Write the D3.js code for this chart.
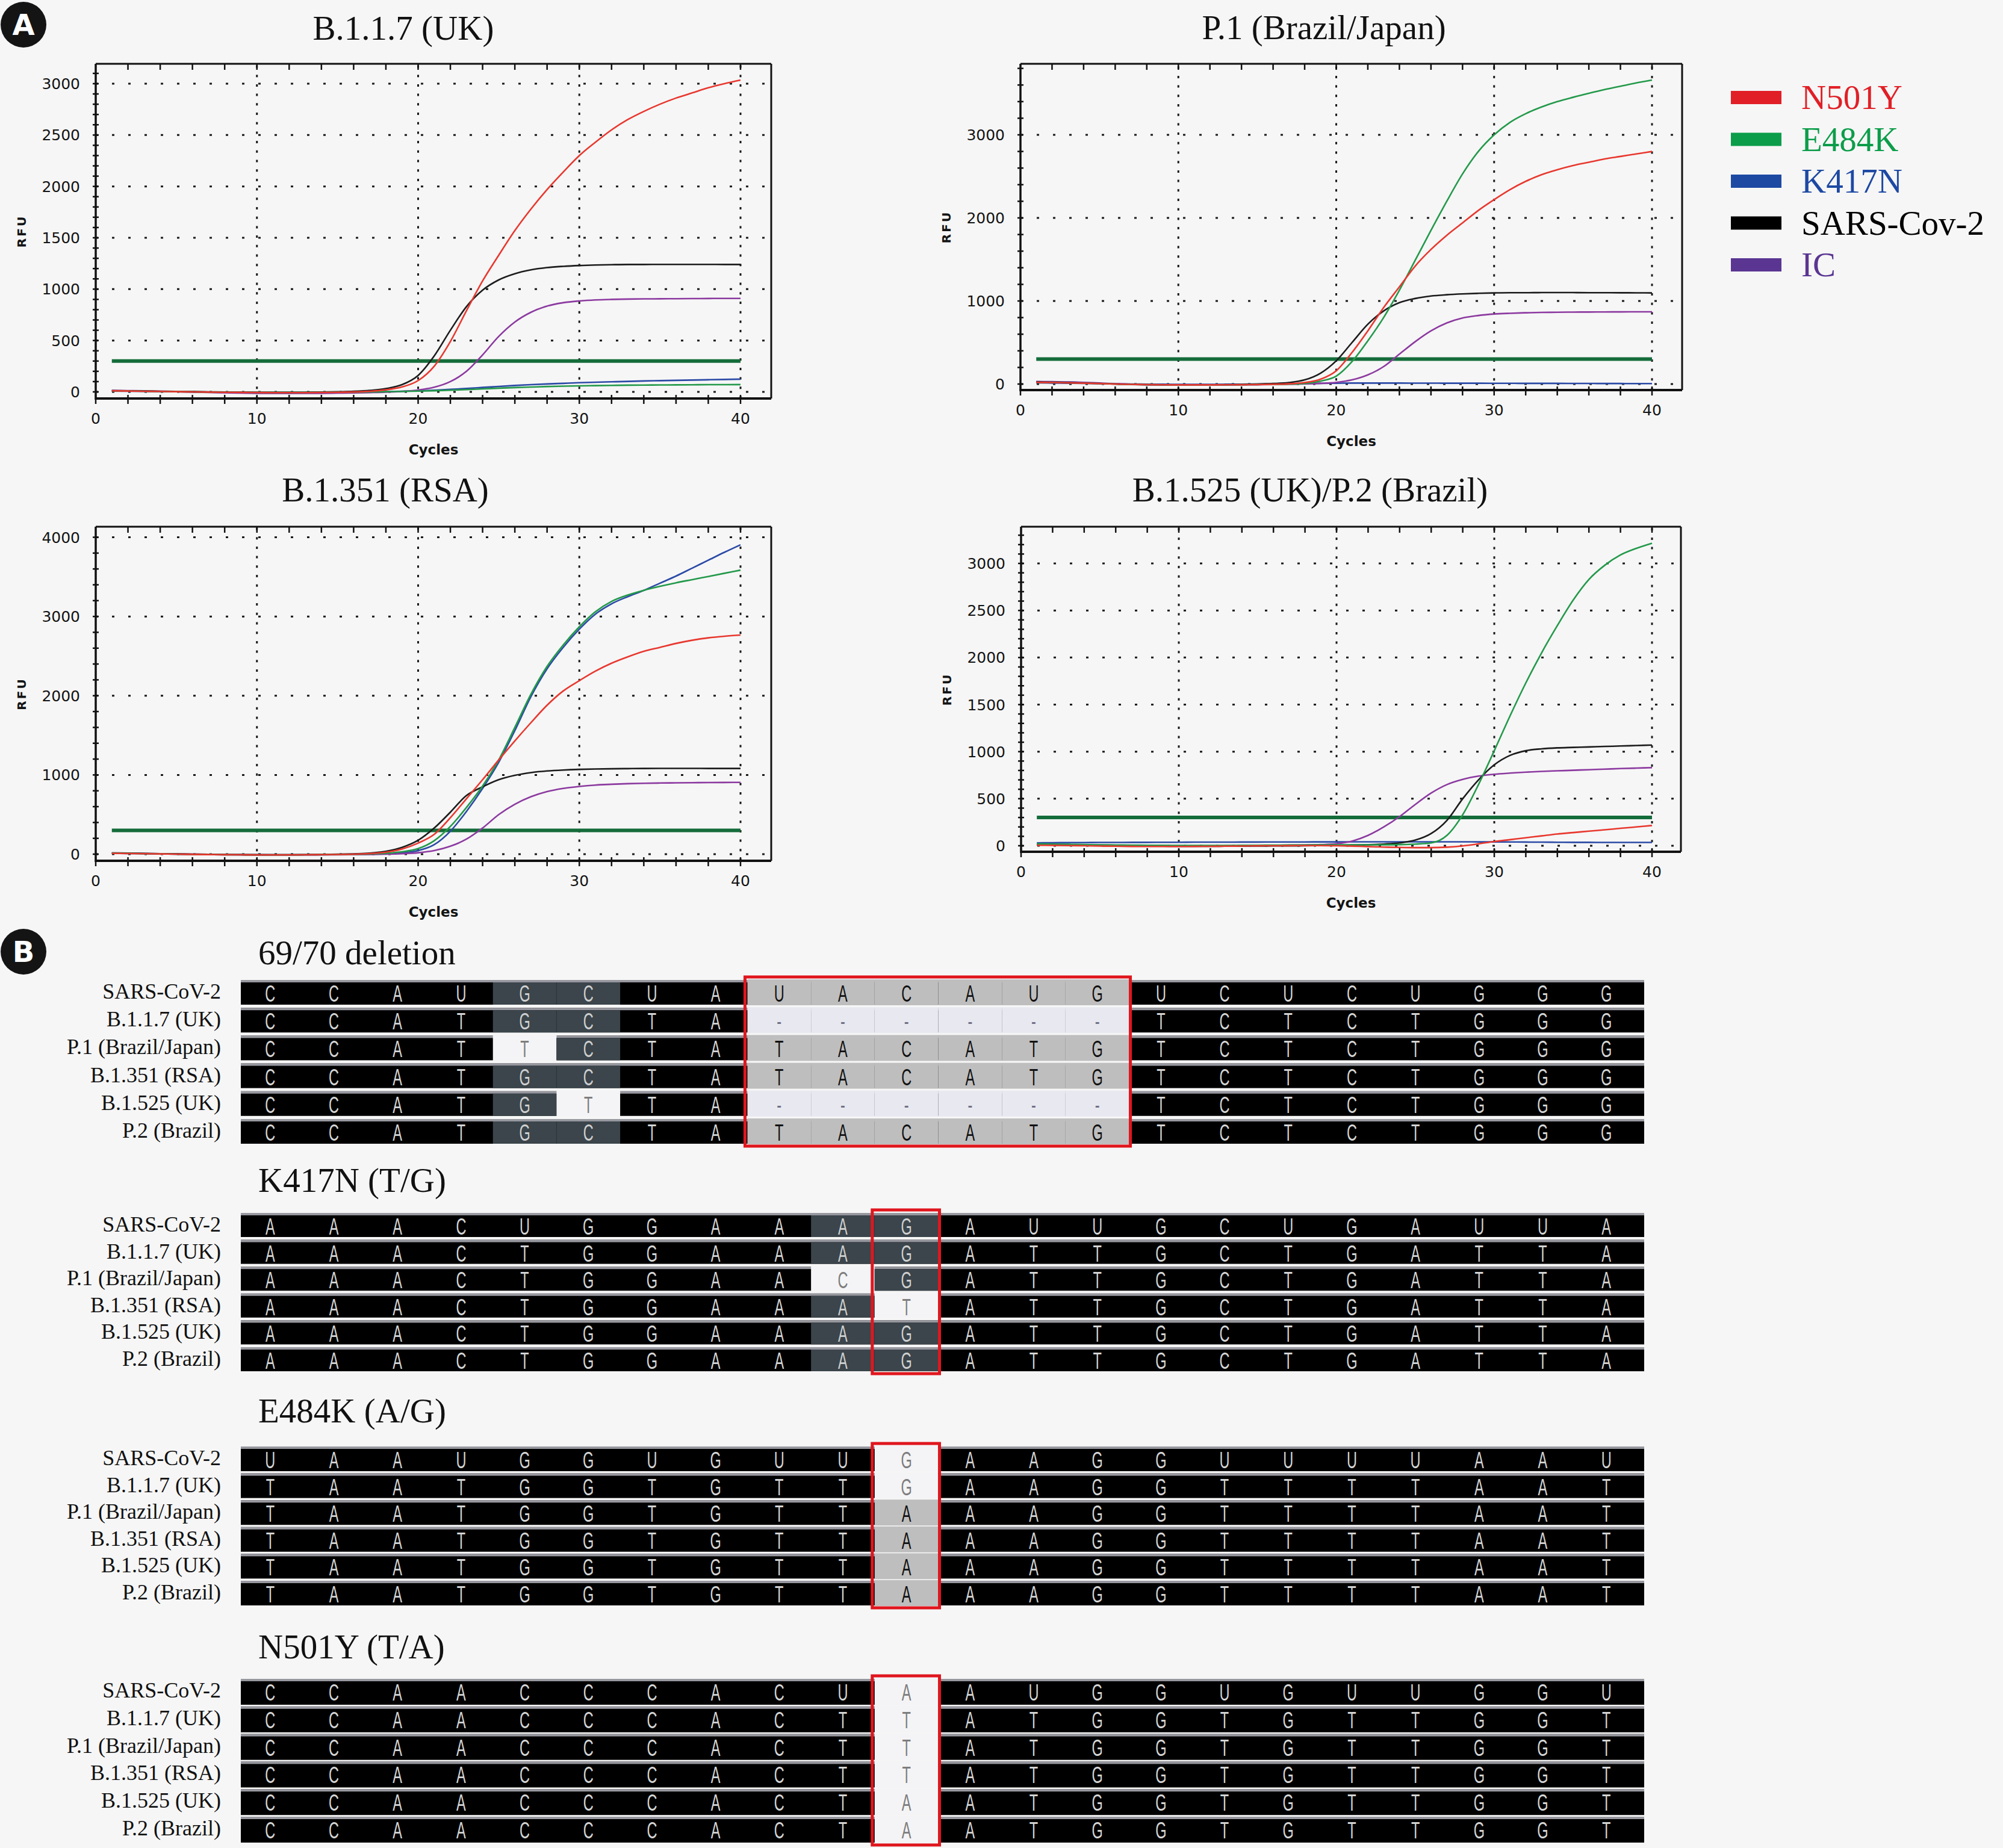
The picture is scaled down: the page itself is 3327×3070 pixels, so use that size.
<!DOCTYPE html>
<html><head><meta charset="utf-8">
<script src="https://cdn.jsdelivr.net/npm/d3@7"></script>
<style>
html,body{margin:0;padding:0;background:#f6f6f6;}
svg{display:block;}
</style></head><body>
<svg id="fig" width="3327" height="3070"></svg>
<script>
// ---------------- DATA ----------------
const cycles = d3.range(1, 41);
const seriesNames = ["N501Y", "E484K", "K417N", "SARS-Cov-2", "IC"];
const thresholdRFU = 300;
const xTickLabels = [0, 10, 20, 30, 40];
const chartTitles = ["B.1.1.7 (UK)", "P.1 (Brazil/Japan)", "B.1.351 (RSA)", "B.1.525 (UK)/P.2 (Brazil)"];
const yTicksB117 = [0, 500, 1000, 1500, 2000, 2500, 3000];
const yTicksP1 = [0, 1000, 2000, 3000];
const yTicksB1351 = [0, 1000, 2000, 3000, 4000];
const yTicksB1525 = [0, 500, 1000, 1500, 2000, 2500, 3000];

// B.1.1.7 (UK)
const b117_N501Y = [10,8,6,4,2,0,-2,-4,-5,-6,-7,-7,-7,-6,-4,-1, 6,20,48,110,250,490,790,1080, 1330,1570,1780,1970,2140,2300,2430,2550, 2650,2730,2800,2860,2910,2960,3000,3035];
const b117_E484K = [10,8,6,4,2,0,-2,-3,-4,-5,-5,-5,-5,-4,-3,-2, 0,2,4,7,11,16,22,29, 36,42,47,52,56,59,61,63, 65,66,67,68,69,70,70,71];
const b117_K417N = [8,6,5,3,2,0,-2,-3,-4,-5,-5,-5,-4,-3,-2,-1, 1,3,6,10,16,24,33,43, 53,62,70,77,83,89,94,98, 102,106,109,112,115,118,121,124];
const b117_SARS = [12,10,8,6,4,2,0,-2,-3,-4,-5,-5,-4,-2,1,5, 14,32,70,160,350,600,830,990, 1090,1150,1188,1210,1222,1230,1235,1238, 1240,1240,1241,1241,1241,1241,1240,1240];
const b117_IC = [14,12,10,6,2,-2,-6,-9,-12,-14,-15,-15,-15,-14,-12,-10, -7,-3,5,18,45,100,200,360, 540,680,775,835,868,885,895,900, 903,905,906,907,908,909,910,910];

// P.1 (Brazil/Japan)
const p1_N501Y = [20,18,14,10,5,0,-4,-7,-9,-10,-10,-10,-9,-8,-6,-3, 3,18,58,160,380,640,920,1170, 1420,1620,1790,1940,2090,2220,2340,2440, 2520,2580,2630,2670,2710,2740,2770,2800];
const p1_E484K = [20,18,14,10,5,0,-4,-7,-9,-10,-10,-10,-9,-8,-6,-4, -1,8,35,95,270,520,800,1130, 1490,1850,2200,2530,2800,3000,3150,3255, 3335,3400,3452,3500,3545,3585,3625,3660];
const p1_K417N = [15,12,10,8,5,2,0,-2,-3,-4,-4,-4,-3,-2,0,2, 4,6,8,10,12,12,12,12, 11,11,10,10,10,9,9,8, 8,8,7,7,6,6,5,5];
const p1_SARS = [25,22,18,12,6,0,-5,-8,-10,-11,-11,-10,-8,-5,0,6, 18,50,130,280,500,720,880,980, 1030,1060,1075,1085,1092,1097,1100,1100, 1101,1101,1101,1100,1100,1099,1098,1097];
const p1_IC = [30,28,25,20,12,5,-2,-7,-10,-12,-12,-12,-11,-10,-8,-5, -2,2,8,20,50,110,210,360, 510,640,735,795,825,843,852,858, 862,864,866,867,868,869,870,870];

// B.1.351 (RSA)
const b1351_N501Y = [10,8,6,3,0,-3,-5,-7,-8,-9,-9,-9,-8,-6,-4,0, 8,25,65,140,250,460,700,940, 1190,1430,1660,1880,2060,2190,2310,2410, 2490,2560,2610,2660,2700,2730,2750,2765];
const b1351_E484K = [12,10,7,4,0,-3,-5,-7,-8,-9,-9,-9,-8,-7,-5,-2, 3,12,30,70,170,350,590,860, 1190,1600,2020,2370,2640,2870,3060,3190, 3270,3330,3380,3425,3465,3505,3545,3585];
const b1351_K417N = [10,8,6,3,0,-3,-5,-7,-8,-9,-9,-9,-8,-7,-5,-3, 0,6,18,45,120,290,540,830, 1160,1560,1990,2340,2610,2840,3030,3160, 3250,3330,3420,3510,3610,3710,3810,3905];
const b1351_SARS = [15,12,9,6,3,0,-3,-5,-6,-7,-7,-7,-6,-4,-1,4, 12,35,85,175,330,530,740,850, 940,995,1030,1050,1062,1070,1075,1078, 1080,1082,1083,1083,1083,1082,1082,1082];
const b1351_IC = [15,12,9,6,3,0,-3,-5,-7,-8,-9,-9,-9,-8,-7,-5, -3,0,6,18,45,100,190,330, 500,630,725,790,830,855,872,882, 890,895,898,900,902,904,905,906];

// B.1.525 (UK)/P.2 (Brazil)
const b1525_N501Y = [5,4,2,0,-3,-5,-7,-8,-8,-8,-7,-6,-5,-3,-1,0, 1,2,2,0,-4,-9,-14,-18, -20,-20,-15,-2,20,45,65,85, 105,125,140,155,170,185,200,215];
const b1525_E484K = [20,18,15,12,10,8,6,5,4,3,3,3,3,4,5,6, 7,8,9,10,10,10,10,12, 18,30,110,330,650,1010,1380,1730, 2050,2340,2610,2830,2980,3090,3160,3215];
const b1525_K417N = [30,32,33,34,35,35,36,36,37,37,38,38,38,39,39,40, 40,40,41,41,42,42,42,42, 42,42,42,42,41,41,40,39, 38,37,36,36,35,35,35,35];
const b1525_SARS = [10,8,6,4,2,0,-2,-4,-5,-6,-6,-6,-5,-4,-3,-2, -1,0,2,4,7,11,18,30, 60,130,270,500,700,860,960,1010, 1030,1040,1045,1050,1055,1060,1065,1070];
const b1525_IC = [15,13,11,9,7,5,3,1,0,-1,-2,-2,-1,0,2,4, 6,8,12,22,50,110,200,310, 440,560,650,705,740,760,772,782, 790,796,802,808,814,820,825,830];

// Alignment (panel B)
const sampleNames = ["SARS-CoV-2", "B.1.1.7 (UK)", "P.1 (Brazil/Japan)", "B.1.351 (RSA)", "B.1.525 (UK)", "P.2 (Brazil)"];
const blockTitles = ["69/70 deletion", "K417N (T/G)", "E484K (A/G)", "N501Y (T/A)"];
const del6970Seqs = [
  "CCAUGCUAUACAUGUCUCUGGG",
  "CCATGCTA------TCTCTGGG",
  "CCATTCTATACATGTCTCTGGG",
  "CCATGCTATACATGTCTCTGGG",
  "CCATGTTA------TCTCTGGG",
  "CCATGCTATACATGTCTCTGGG"];
const del6970Box = [8, 13];
const k417nSeqs = [
  "AAACUGGAAAGAUUGCUGAUUA",
  "AAACTGGAAAGATTGCTGATTA",
  "AAACTGGAACGATTGCTGATTA",
  "AAACTGGAAATATTGCTGATTA",
  "AAACTGGAAAGATTGCTGATTA",
  "AAACTGGAAAGATTGCTGATTA"];
const k417nBox = [10, 10];
const e484kSeqs = [
  "UAAUGGUGUUGAAGGUUUUAAU",
  "TAATGGTGTTGAAGGTTTTAAT",
  "TAATGGTGTTAAAGGTTTTAAT",
  "TAATGGTGTTAAAGGTTTTAAT",
  "TAATGGTGTTAAAGGTTTTAAT",
  "TAATGGTGTTAAAGGTTTTAAT"];
const e484kBox = [10, 10];
const n501ySeqs = [
  "CCAACCCACUAAUGGUGUUGGU",
  "CCAACCCACTTATGGTGTTGGT",
  "CCAACCCACTTATGGTGTTGGT",
  "CCAACCCACTTATGGTGTTGGT",
  "CCAACCCACTAATGGTGTTGGT",
  "CCAACCCACTAATGGTGTTGGT"];
const n501yBox = [10, 10];

// ---------------- STYLE / LAYOUT ----------------
const fontSerif = "'Liberation Serif','Times New Roman',serif";
const fontSans = "'DejaVu Sans',sans-serif";
const lineColors = ["#e8382f", "#23994a", "#2b4aa6", "#1c1c1c", "#8c3aa0"];
const legendColors = ["#e11f26", "#0c9d4a", "#1d49a3", "#000000", "#5a3592"];
const drawOrder = [2, 4, 3, 1, 0];

const svg = d3.select("#fig");
svg.append("rect").attr("width", 3327).attr("height", 3070).attr("fill", "#f6f6f6");

function badge(cx, cy, letter) {
  svg.append("circle").attr("cx", cx).attr("cy", cy).attr("r", 38).attr("fill", "#141414");
  svg.append("text").attr("x", cx).attr("y", cy + 17).attr("text-anchor", "middle")
    .attr("font-family", fontSans).attr("font-weight", "bold").attr("font-size", 48)
    .attr("fill", "#fff").text(letter);
}
badge(39, 41, "A");
badge(39, 1581, "B");

const charts = [
  { title: chartTitles[0], titleX: 670, titleY: 66, series: [b117_N501Y, b117_E484K, b117_K417N, b117_SARS, b117_IC],
    yTicks: yTicksB117, minor: 100, l: 159, r: 1281, t: 106, b: 662, x40: 1230, y0: 651, yRefV: 3000, yRef: 139 },
  { title: chartTitles[1], titleX: 2199, titleY: 65, series: [p1_N501Y, p1_E484K, p1_K417N, p1_SARS, p1_IC],
    yTicks: yTicksP1, minor: 200, l: 1695, r: 2794, t: 106, b: 648, x40: 2744, y0: 638, yRefV: 3000, yRef: 224 },
  { title: chartTitles[2], titleX: 640, titleY: 833, series: [b1351_N501Y, b1351_E484K, b1351_K417N, b1351_SARS, b1351_IC],
    yTicks: yTicksB1351, minor: 200, l: 159, r: 1281, t: 875, b: 1430, x40: 1230, y0: 1419, yRefV: 4000, yRef: 892.5 },
  { title: chartTitles[3], titleX: 2176, titleY: 833, series: [b1525_N501Y, b1525_E484K, b1525_K417N, b1525_SARS, b1525_IC],
    yTicks: yTicksB1525, minor: 100, l: 1696, r: 2792, t: 875, b: 1415, x40: 2744, y0: 1405, yRefV: 3000, yRef: 936 }
];

charts.forEach((c, ci) => {
  const x = d3.scaleLinear().domain([0, 40]).range([c.l, c.x40]);
  const y = d3.scaleLinear().domain([0, c.yRefV]).range([c.y0, c.yRef]);
  const g = svg.append("g");
  const clipId = "clip" + ci;
  svg.append("clipPath").attr("id", clipId).append("rect")
    .attr("x", c.l).attr("y", c.t).attr("width", c.r - c.l).attr("height", c.b - c.t);

  g.append("text").attr("x", c.titleX).attr("y", c.titleY).attr("text-anchor", "middle")
    .attr("font-family", fontSerif).attr("font-size", 57).attr("fill", "#111").text(c.title);

  g.selectAll(".hg").data(c.yTicks).join("line")
    .attr("x1", c.l).attr("x2", c.r).attr("y1", d => y(d)).attr("y2", d => y(d))
    .attr("stroke", "#1a1a1a").attr("stroke-width", 3).attr("stroke-dasharray", "4,23");
  g.selectAll(".vg").data(xTickLabels.slice(1)).join("line")
    .attr("x1", d => x(d)).attr("x2", d => x(d)).attr("y1", c.b).attr("y2", c.t)
    .attr("stroke", "#1a1a1a").attr("stroke-width", 3).attr("stroke-dasharray", "4,11.7");

  g.append("line").attr("x1", c.l).attr("x2", c.r).attr("y1", c.t).attr("y2", c.t).attr("stroke", "#111").attr("stroke-width", 3);
  g.append("line").attr("x1", c.r).attr("x2", c.r).attr("y1", c.t).attr("y2", c.b).attr("stroke", "#111").attr("stroke-width", 3);
  g.append("line").attr("x1", c.l).attr("x2", c.l).attr("y1", c.t).attr("y2", c.b + 2).attr("stroke", "#111").attr("stroke-width", 3.5);
  g.append("line").attr("x1", c.l).attr("x2", c.r).attr("y1", c.b).attr("y2", c.b).attr("stroke", "#111").attr("stroke-width", 4);

  const xt = d3.range(0, 42, 2);
  g.selectAll(".xtb").data(xt).join("line")
    .attr("x1", d => x(d)).attr("x2", d => x(d)).attr("y1", c.b - 6).attr("y2", c.b + 9)
    .attr("stroke", "#111").attr("stroke-width", 2.5);
  g.selectAll(".xtt").data(xt.filter(d => d > 0)).join("line")
    .attr("x1", d => x(d)).attr("x2", d => x(d)).attr("y1", c.t).attr("y2", c.t + 10)
    .attr("stroke", "#111").attr("stroke-width", 2.5);
  const yMax = y.invert(c.t);
  const yt = d3.range(0, yMax, c.minor);
  g.selectAll(".ytl").data(yt).join("line")
    .attr("x1", c.l - 5).attr("x2", c.l + 5).attr("y1", d => y(d)).attr("y2", d => y(d))
    .attr("stroke", "#111").attr("stroke-width", 2.5);

  g.selectAll(".yl").data(c.yTicks).join("text")
    .attr("x", c.l - 26).attr("y", d => y(d) + 9).attr("text-anchor", "end")
    .attr("font-family", fontSans).attr("font-size", 25).attr("fill", "#141414").text(d => d);
  g.selectAll(".xl").data(xTickLabels).join("text")
    .attr("x", d => x(d)).attr("y", c.b + 42).attr("text-anchor", "middle")
    .attr("font-family", fontSans).attr("font-size", 25).attr("fill", "#141414").text(d => d);

  g.append("text").attr("x", (c.l + c.r) / 2).attr("y", c.b + 93).attr("text-anchor", "middle")
    .attr("font-family", fontSans).attr("font-weight", "bold").attr("font-size", 23).attr("fill", "#141414").text("Cycles");
  g.append("text").attr("transform", `translate(${c.l - 116},${(c.t + c.b) / 2}) rotate(-90)`)
    .attr("text-anchor", "middle").attr("font-family", fontSans).attr("font-weight", "bold")
    .attr("font-size", 20).attr("letter-spacing", 3).attr("fill", "#141414").text("RFU");

  const plot = g.append("g").attr("clip-path", `url(#${clipId})`);
  plot.append("line").attr("x1", x(1)).attr("x2", x(40)).attr("y1", y(thresholdRFU)).attr("y2", y(thresholdRFU))
    .attr("stroke", "#146c3a").attr("stroke-width", 6);

  const line = d3.line().x(d => x(d.c)).y(d => y(d.v)).curve(d3.curveMonotoneX);
  drawOrder.forEach(si => {
    const pts = cycles.map((cy, i) => ({ c: cy, v: c.series[si][i] }));
    plot.append("path").attr("d", line(pts)).attr("fill", "none")
      .attr("stroke", lineColors[si]).attr("stroke-width", 2.6).attr("stroke-linejoin", "round");
  });
});

// legend
const legY = d3.scalePoint().domain(seriesNames).range([162, 440]);
const leg = svg.append("g");
seriesNames.forEach((n, i) => {
  leg.append("rect").attr("x", 2875).attr("y", legY(n) - 11).attr("width", 84).attr("height", 22).attr("fill", legendColors[i]);
  leg.append("text").attr("x", 2992).attr("y", legY(n) + 19).attr("font-family", fontSerif)
    .attr("font-size", 57).attr("fill", legendColors[i]).text(n);
});

// ---------------- PANEL B: alignments ----------------
const blocks = [
  { title: blockTitles[0], seqs: del6970Seqs, box: del6970Box, titleY: 1602, top: 1628, pitch: 46.2, h: 41 },
  { title: blockTitles[1], seqs: k417nSeqs, box: k417nBox, titleY: 1980, top: 2015, pitch: 44.6, h: 40 },
  { title: blockTitles[2], seqs: e484kSeqs, box: e484kBox, titleY: 2363, top: 2403, pitch: 44.6, h: 41 },
  { title: blockTitles[3], seqs: n501ySeqs, box: n501yBox, titleY: 2755, top: 2789, pitch: 45.8, h: 43 }
];
const col = d3.scaleBand().domain(d3.range(22)).range([396, 2721]);
const norm = ch => ch === "U" ? "T" : ch;
const bgFor = { 6: "#000000", 5: "#3b454b", 4: "#bebebe", low: "#f4f4f6", gap: "#e8e8f0" };
const fgFor = { 6: "#d4d4d4", 5: "#cfcfcf", 4: "#111111", low: "#7d7d7d", gap: "#6f6f86" };

blocks.forEach(bk => {
  const g = svg.append("g");
  g.append("text").attr("x", 429).attr("y", bk.titleY).attr("font-family", fontSerif)
    .attr("font-size", 57).attr("fill", "#111").text(bk.title);
  const n = bk.seqs[0].length;
  bk.seqs.forEach((seq, ri) => {
    const ty = bk.top + ri * bk.pitch;
    g.append("text").attr("x", 367).attr("y", ty + 31).attr("text-anchor", "end")
      .attr("font-family", fontSerif).attr("font-size", 36).attr("fill", "#111").text(sampleNames[ri]);
    g.append("rect").attr("x", 400).attr("y", ty).attr("width", 2331).attr("height", bk.h).attr("fill", "#000");
    g.append("rect").attr("x", 400).attr("y", ty).attr("width", 2331).attr("height", 4).attr("fill", "#97979f");
    for (let k = 0; k < n; k++) {
      const ch = seq[k];
      let cls;
      if (ch === "-") cls = "gap";
      else {
        const cnt = bk.seqs.filter(s => norm(s[k]) === norm(ch)).length;
        cls = cnt >= 6 ? 6 : cnt === 5 ? 5 : cnt === 4 ? 4 : "low";
      }
      const cx = col(k), cw = col.bandwidth();
      if (cls === 5) {
        g.append("rect").attr("x", cx).attr("y", ty + 4).attr("width", cw).attr("height", bk.h - 4).attr("fill", bgFor[5]);
      } else if (cls !== 6) {
        g.append("rect").attr("x", cx).attr("y", ty - 1).attr("width", cw).attr("height", bk.h + 2).attr("fill", bgFor[cls]);
      }
      g.append("text")
        .attr("transform", `translate(${cx + cw / 2},${ty + 36}) scale(0.62,1)`)
        .attr("text-anchor", "middle").attr("font-family", "'Liberation Sans',Arial,sans-serif")
        .attr("font-size", 38).attr("fill", fgFor[cls]).text(ch);
    }
  });
  const bx0 = col(bk.box[0]) - 4, bx1 = col(bk.box[1]) + col.bandwidth() + 2;
  const by0 = bk.top - 5, by1 = bk.top + 5 * bk.pitch + bk.h + 4;
  g.append("rect").attr("x", bx0).attr("y", by0).attr("width", bx1 - bx0).attr("height", by1 - by0)
    .attr("fill", "none").attr("stroke", "#e0161e").attr("stroke-width", 5);
});
</script>
</body></html>
